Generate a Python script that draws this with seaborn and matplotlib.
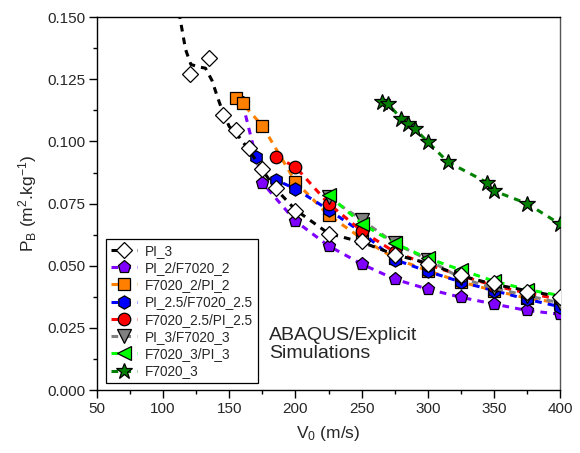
import numpy as np
import pandas as pd
import matplotlib
matplotlib.use("Agg")
import matplotlib.pyplot as plt
from matplotlib.lines import Line2D
from matplotlib.ticker import MultipleLocator
import seaborn as sns

# --- data ---
pi3_v = [120, 135, 145, 155, 165, 175, 185, 200, 225, 250, 275, 300, 325, 350, 375, 400]
pi3_p = [0.127, 0.1335, 0.1105, 0.1045, 0.0972, 0.0888, 0.0811, 0.0722, 0.0628, 0.0598,
         0.0545, 0.0508, 0.0462, 0.0429, 0.0396, 0.0375]
# black dashed fit traced for PI_3
pi3_fit_v = [112, 117, 121, 127, 132, 137, 141, 145, 150, 155, 165, 175, 185, 200, 225,
             250, 275, 300, 325, 350, 375, 400]
pi3_fit_p = [0.152, 0.137, 0.131, 0.130, 0.1295, 0.1245, 0.118, 0.112, 0.106, 0.1035,
             0.0965, 0.0885, 0.081, 0.0725, 0.063, 0.0595, 0.0545, 0.051, 0.046, 0.0425,
             0.040, 0.0375]

pi2_v = [160, 175, 200, 225, 250, 275, 300, 325, 350, 375, 400]
pi2_p = [0.1155, 0.0834, 0.068, 0.058, 0.0507, 0.0446, 0.0406, 0.0373, 0.0346, 0.032, 0.0305]

f2_v = [155, 160, 175, 200, 225, 250, 275, 300, 325, 350, 375, 400]
f2_p = [0.1176, 0.1153, 0.1063, 0.0838, 0.0704, 0.061, 0.053, 0.048, 0.0435, 0.040, 0.037, 0.035]

pi25_v = [170, 185, 200, 225, 250, 275, 300, 325, 350, 375, 400]
pi25_p = [0.0938, 0.0845, 0.081, 0.0725, 0.0635, 0.0525, 0.0477, 0.0435, 0.040, 0.0365, 0.0335]

f25_v = [185, 200, 225, 250, 275, 300, 325, 350, 375, 400]
f25_p = [0.0938, 0.0898, 0.075, 0.064, 0.0555, 0.0505, 0.046, 0.042, 0.039, 0.0365]

pi3f_v = [225, 250, 275, 300, 325, 350, 375, 400]
pi3f_p = [0.0775, 0.0685, 0.059, 0.0525, 0.045, 0.041, 0.038, 0.035]

f3pi_v = [225, 250, 275, 300, 325, 350, 375, 400]
f3pi_p = [0.0784, 0.067, 0.059, 0.053, 0.0483, 0.0438, 0.0404, 0.038]

f3_v = [265, 270, 280, 285, 290, 300, 315, 345, 350, 375, 400]
f3_p = [0.1159, 0.115, 0.1092, 0.1072, 0.1052, 0.0998, 0.0918, 0.0834, 0.0801, 0.075, 0.0667]

sns.set_style("ticks")
plt.rcParams["font.family"] = ["Liberation Sans", "DejaVu Sans"]
plt.rcParams["mathtext.default"] = "regular"

fig = plt.figure(figsize=(5.8, 4.53), dpi=100)
ax = fig.add_axes([0.167, 0.139, 0.799, 0.823])

dash = (0, (2.2, 2.0))
lw = 2.2

# (label, v, p, marker, size, face, line colour, zorder)
series = [
    ("PI_2/F7020_2", pi2_v, pi2_p, "p", 9.5, "#8000ff", "#8000ff", 3),
    ("F7020_2/PI_2", f2_v, f2_p, "s", 8.5, "#ff8000", "#ff8000", 4),
    ("PI_2.5/F7020_2.5", pi25_v, pi25_p, "h", 9.5, "#0000ff", "#0000ff", 5),
    ("F7020_2.5/PI_2.5", f25_v, f25_p, "o", 9, "#ff0000", "#ff0000", 6),
    ("PI_3/F7020_3", pi3f_v, pi3f_p, "v", 9.5, "#808080", "#808080", 7),
    ("F7020_3/PI_3", f3pi_v, f3pi_p, "<", 9.5, "#00ff00", "#00ff00", 8),
    ("F7020_3", f3_v, f3_p, "*", 12, "#008000", "#008000", 9),
]

for lab, v, p, mk, ms, fc, lc, z in series:
    sns.lineplot(x=v, y=p, ax=ax, color=lc, linestyle=dash, linewidth=lw,
                 marker=mk, markersize=ms, markerfacecolor=fc,
                 markeredgecolor="black", markeredgewidth=0.9,
                 errorbar=None, zorder=z)

# PI_3: fitted dashed curve plus open diamonds on top
sns.lineplot(x=pi3_fit_v, y=pi3_fit_p, ax=ax, color="black", linestyle=dash,
             linewidth=lw, errorbar=None, sort=False, zorder=10)
ax.plot(pi3_v, pi3_p, linestyle="none", marker="D", markersize=8,
        markerfacecolor="white", markeredgecolor="black", markeredgewidth=0.9,
        zorder=11)

handles = [Line2D([], [], color="black", linestyle=dash, linewidth=lw, marker="D",
                  markersize=8, markerfacecolor="white", markeredgecolor="black",
                  markeredgewidth=0.9)]
labels = ["PI_3"]
for lab, v, p, mk, ms, fc, lc, z in series:
    handles.append(Line2D([], [], color=lc, linestyle=dash, linewidth=lw, marker=mk,
                          markersize=ms, markerfacecolor=fc, markeredgecolor="black",
                          markeredgewidth=0.9))
    labels.append(lab)

leg = ax.legend(handles, labels, loc="lower left", bbox_to_anchor=(0.005, 0.0),
                fontsize=9.8, frameon=True, fancybox=False, framealpha=1,
                edgecolor="black", handlelength=1.9, handletextpad=0.6,
                labelspacing=0.24, borderpad=0.35, borderaxespad=0.5)
leg.get_frame().set_linewidth(0.9)

ax.text(0.372, 0.122, "ABAQUS/Explicit\nSimulations", transform=ax.transAxes,
        fontsize=14, va="center", ha="left", linespacing=1.05)

ax.set_xlim(50, 400)
ax.set_ylim(0, 0.15)
ax.xaxis.set_major_locator(MultipleLocator(50))
ax.xaxis.set_minor_locator(MultipleLocator(25))
ax.yaxis.set_major_locator(MultipleLocator(0.025))
ax.yaxis.set_minor_locator(MultipleLocator(0.0125))
ax.yaxis.set_major_formatter(plt.FormatStrFormatter("%.3f"))
ax.tick_params(which="major", direction="out", length=5.5, width=1, labelsize=11,
               top=False, right=False, color="black", pad=3)
ax.tick_params(which="minor", direction="out", length=3, width=1,
               top=False, right=False, color="black")
for s in ax.spines.values():
    s.set_color("black")
    s.set_linewidth(1.0)
ax.spines["right"].set_color("#555555")

ax.set_xlabel(r"V$_0$ (m/s)", fontsize=12.5, labelpad=6)
ax.set_ylabel(r"P$_B$ (m$^2$.kg$^{-1}$)", fontsize=12.5, labelpad=6)

fig.savefig("out.png", dpi=100)
